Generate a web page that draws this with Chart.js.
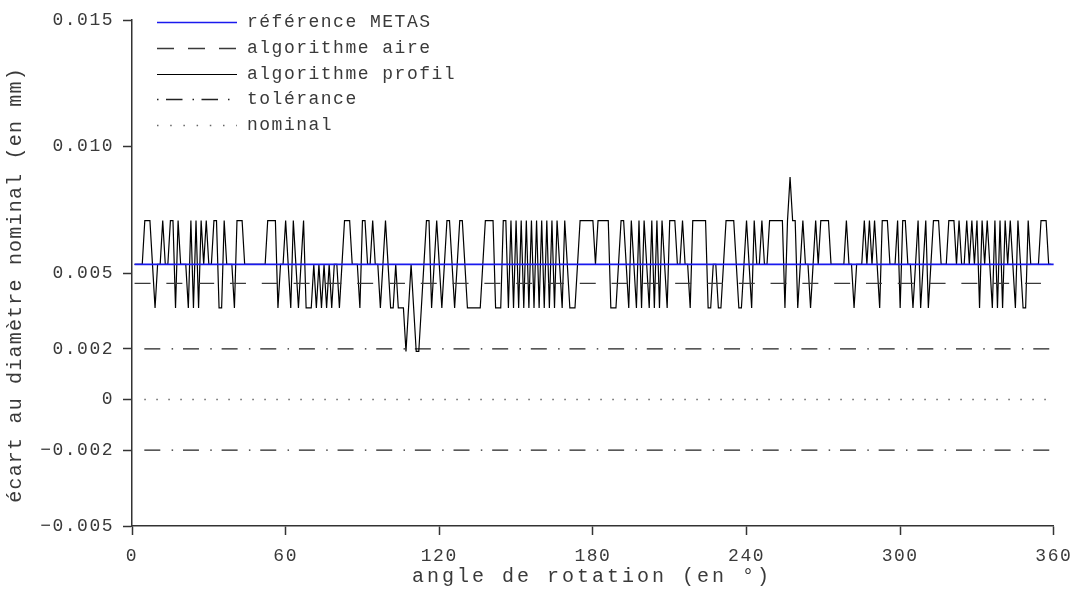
<!DOCTYPE html>
<html><head><meta charset="utf-8">
<script src="https://cdn.jsdelivr.net/npm/chart.js@4.4.0/dist/chart.umd.min.js"></script>
<style>html,body{margin:0;padding:0;background:#fff}#wrap{width:1080px;height:590px}</style>
</head><body><div id="wrap"><canvas id="c" width="1080" height="590"></canvas></div>
<script>
// ---------- data ----------
const xTickValues = [0, 60, 120, 180, 240, 300, 360];
const yTickValues = [-0.005, -0.002, 0, 0.002, 0.005, 0.010, 0.015];
const yTickLabels = ['−0.005', '−0.002', '0', '0.002', '0.005', '0.010', '0.015'];
const seriesNames = ['référence METAS', 'algorithme aire', 'algorithme profil', 'tolérance', 'nominal'];
const xTitle = 'angle de rotation (en °)';
const yTitle = 'écart au diamètre nominal (en mm)';

const lineAngles = [1, 360];
const referenceValues = [0.00534, 0.00534];
const aireValues = [0.00459, 0.00459];
const toleranceUpper = [0.002, 0.002];
const toleranceLower = [-0.002, -0.002];
const nominalValues = [0, 0];

// algorithme profil : one reading per degree, from 1° to 359°
const profileFirstAngle = 1;
const profileValues = [
 0.00534,0.00534,0.00534,0.00534,0.00707,0.00707,0.00707,0.00534,0.00362,0.00534, // 1-10
 0.00534,0.00707,0.00534,0.00534,0.00707,0.00707,0.00362,0.00707,0.00534,0.00534, // 11-20
 0.00534,0.00362,0.00707,0.00362,0.00707,0.00362,0.00707,0.00534,0.00707,0.00534, // 21-30
 0.00534,0.00707,0.00707,0.00362,0.00362,0.00707,0.00534,0.00534,0.00534,0.00362, // 31-40
 0.00707,0.00707,0.00707,0.00534,0.00534,0.00534,0.00534,0.00534,0.00534,0.00534, // 41-50
 0.00534,0.00534,0.00707,0.00707,0.00707,0.00707,0.00362,0.00534,0.00534,0.00707, // 51-60
 0.00534,0.00362,0.00707,0.00534,0.00362,0.00534,0.00707,0.00362,0.00362,0.00362, // 61-70
 0.00534,0.00362,0.00534,0.00362,0.00534,0.00362,0.00534,0.00362,0.00534,0.00534, // 71-80
 0.00362,0.00534,0.00707,0.00707,0.00707,0.00534,0.00534,0.00534,0.00362,0.00707, // 81-90
 0.00707,0.00534,0.00534,0.00707,0.00534,0.00534,0.00362,0.00534,0.00707,0.00534, // 91-100
 0.00362,0.00362,0.00534,0.00362,0.00362,0.00362,0.00190,0.00362,0.00534,0.00362, // 101-110
 0.00190,0.00190,0.00362,0.00534,0.00707,0.00707,0.00362,0.00534,0.00707,0.00534, // 111-120
 0.00362,0.00534,0.00707,0.00707,0.00534,0.00362,0.00534,0.00707,0.00707,0.00534, // 121-130
 0.00362,0.00362,0.00362,0.00362,0.00362,0.00362,0.00534,0.00707,0.00707,0.00707, // 131-140
 0.00707,0.00362,0.00362,0.00362,0.00707,0.00707,0.00362,0.00707,0.00362,0.00707, // 141-150
 0.00362,0.00707,0.00362,0.00707,0.00362,0.00707,0.00362,0.00707,0.00362,0.00707, // 151-160
 0.00362,0.00707,0.00362,0.00707,0.00362,0.00707,0.00534,0.00362,0.00707,0.00534, // 161-170
 0.00362,0.00362,0.00362,0.00534,0.00707,0.00707,0.00707,0.00707,0.00707,0.00707, // 171-180
 0.00534,0.00707,0.00707,0.00707,0.00707,0.00707,0.00362,0.00362,0.00362,0.00534, // 181-190
 0.00707,0.00707,0.00534,0.00362,0.00707,0.00534,0.00362,0.00707,0.00362,0.00707, // 191-200
 0.00534,0.00362,0.00707,0.00362,0.00707,0.00362,0.00707,0.00534,0.00362,0.00707, // 201-210
 0.00707,0.00707,0.00534,0.00534,0.00707,0.00534,0.00534,0.00362,0.00707,0.00707, // 211-220
 0.00707,0.00707,0.00707,0.00707,0.00362,0.00362,0.00534,0.00534,0.00362,0.00362, // 221-230
 0.00534,0.00707,0.00707,0.00707,0.00707,0.00534,0.00362,0.00362,0.00534,0.00707, // 231-240
 0.00534,0.00362,0.00707,0.00534,0.00534,0.00707,0.00534,0.00534,0.00707,0.00707, // 241-250
 0.00707,0.00707,0.00707,0.00707,0.00362,0.00707,0.00879,0.00707,0.00707,0.00362, // 251-260
 0.00534,0.00707,0.00534,0.00534,0.00362,0.00534,0.00707,0.00534,0.00707,0.00707, // 261-270
 0.00707,0.00707,0.00534,0.00534,0.00534,0.00534,0.00534,0.00534,0.00707,0.00534, // 271-280
 0.00534,0.00362,0.00534,0.00534,0.00534,0.00707,0.00534,0.00707,0.00534,0.00707, // 281-290
 0.00534,0.00362,0.00707,0.00707,0.00707,0.00534,0.00534,0.00534,0.00707,0.00362, // 291-300
 0.00707,0.00707,0.00534,0.00534,0.00362,0.00534,0.00707,0.00362,0.00534,0.00707, // 301-310
 0.00362,0.00534,0.00707,0.00707,0.00707,0.00534,0.00534,0.00534,0.00707,0.00707, // 311-320
 0.00707,0.00534,0.00707,0.00534,0.00534,0.00707,0.00534,0.00707,0.00534,0.00707, // 321-330
 0.00362,0.00707,0.00534,0.00707,0.00534,0.00362,0.00707,0.00362,0.00707,0.00362, // 331-340
 0.00707,0.00534,0.00707,0.00534,0.00362,0.00707,0.00534,0.00362,0.00362,0.00707, // 341-350
 0.00534,0.00534,0.00534,0.00534,0.00707,0.00707,0.00707,0.00534,0.00534          // 351-359
];

// ---------- presentation ----------
const FONT_FAMILY = '"Liberation Mono", "DejaVu Sans Mono", monospace';
const FONT_SIZE = 18;
const LETTER_SPACING = '1.5px';
const TEXT_COLOR = '#3a3a3a';
const AXIS_COLOR = '#333';
const TITLE = {size: 20, xSpacing: 3, ySpacing: 1.2, xCenterY: 577, yCenterX: 16, yShift: 12.5};

const pts = (xs, ys) => ys.map((y, i) => ({x: xs[i], y}));
const profilePoints = profileValues.map((v, i) => ({x: profileFirstAngle + i, y: v}));

const LEG = {x0: 157, x1: 237, textX: 247, top: 22, gap: 25.8};

const textPlugin = {
  id: 'lineLegend',
  beforeDraw(chart) { chart.ctx.letterSpacing = LETTER_SPACING; },
  afterDraw(chart) {
    const ctx = chart.ctx;
    const area = chart.chartArea;
    ctx.save();
    ctx.letterSpacing = LETTER_SPACING;
    ctx.font = FONT_SIZE + 'px ' + FONT_FAMILY;
    ctx.textBaseline = 'middle';
    ctx.textAlign = 'left';
    let row = 0;
    chart.data.datasets.forEach(ds => {
      if (!ds.inLegend) return;
      const y = Math.round(LEG.top + row * LEG.gap) + 0.5;
      ctx.strokeStyle = ds.borderColor;
      ctx.lineWidth = ds.borderWidth;
      ctx.setLineDash(ds.legendDash || []);
      ctx.lineDashOffset = 0;
      ctx.beginPath(); ctx.moveTo(LEG.x0, y); ctx.lineTo(LEG.x1, y); ctx.stroke();
      ctx.setLineDash([]);
      ctx.fillStyle = TEXT_COLOR;
      ctx.fillText(ds.label, LEG.textX, y);
      row++;
    });
    // axis titles
    ctx.font = TITLE.size + 'px ' + FONT_FAMILY;
    ctx.textAlign = 'center';
    ctx.fillStyle = TEXT_COLOR;
    ctx.letterSpacing = TITLE.xSpacing + 'px';
    ctx.fillText(xTitle, (area.left + area.right) / 2 - 2.5 + TITLE.xSpacing / 2, TITLE.xCenterY);
    ctx.letterSpacing = TITLE.ySpacing + 'px';
    ctx.translate(TITLE.yCenterX, (area.top + area.bottom) / 2 + TITLE.yShift);
    ctx.rotate(-Math.PI / 2);
    ctx.fillText(yTitle, TITLE.ySpacing / 2, 0);
    ctx.restore();
  }
};

const common = {pointRadius: 0, pointHoverRadius: 0, tension: 0, fill: false};

new Chart(document.getElementById('c'), {
  type: 'line',
  data: {
    datasets: [
      {...common, label: seriesNames[0], data: pts(lineAngles, referenceValues), borderColor: '#1a1aee', borderWidth: 1.6, inLegend: true},
      {...common, label: seriesNames[1], data: pts(lineAngles, aireValues), borderColor: '#3a3a3a', borderWidth: 1.4, borderDash: [16, 15.8], legendDash: [17, 14], inLegend: true},
      {...common, label: seriesNames[2], data: profilePoints, borderColor: '#000', borderWidth: 1.2, inLegend: true},
      {...common, label: seriesNames[3], data: pts(lineAngles, toleranceUpper), borderColor: '#222', borderWidth: 1.4, borderDash: [16, 11.3, 1.5, 9.85], borderDashOffset: 28.9, legendDash: [1.5, 7.5, 16.5, 10], inLegend: true},
      {...common, label: seriesNames[3], data: pts(lineAngles, toleranceLower), borderColor: '#222', borderWidth: 1.4, borderDash: [16, 11.3, 1.5, 9.85], borderDashOffset: 28.9, inLegend: false},
      {...common, label: seriesNames[4], data: pts(lineAngles, nominalValues), borderColor: '#666', borderWidth: 1.4, borderDash: [1.5, 10.5], borderDashOffset: 2.25, legendDash: [1.5, 11.7], inLegend: true}
    ]
  },
  options: {
    responsive: false,
    animation: false,
    devicePixelRatio: 1,
    layout: {padding: {top: 20, right: 26, bottom: 0, left: 0}},
    plugins: {legend: {display: false}, tooltip: {enabled: false}},
    scales: {
      x: {
        type: 'linear', min: 0, max: 360,
        afterBuildTicks: s => { s.ticks = xTickValues.map(v => ({value: v})); },
        afterFit: s => { s.height = 64; },
        grid: {drawOnChartArea: false, drawTicks: true, tickLength: 9, color: AXIS_COLOR, tickWidth: 1.5},
        border: {display: true, color: AXIS_COLOR, width: 1.5},
        ticks: {color: TEXT_COLOR, font: {family: FONT_FAMILY, size: FONT_SIZE}, padding: 10, maxRotation: 0, autoSkip: false},
        title: {display: false}
      },
      y: {
        type: 'linear', min: -0.005, max: 0.015,
        afterBuildTicks: s => { s.ticks = yTickValues.map(v => ({value: v})); },
        afterFit: s => { s.width = 132; },
        grid: {drawOnChartArea: false, drawTicks: true, tickLength: 9, color: AXIS_COLOR, tickWidth: 1.5},
        border: {display: true, color: AXIS_COLOR, width: 1.5},
        ticks: {color: TEXT_COLOR, font: {family: FONT_FAMILY, size: FONT_SIZE}, padding: 9, autoSkip: false,
                callback: (v) => { const i = yTickValues.findIndex(t => Math.abs(t - v) < 1e-9); return i >= 0 ? yTickLabels[i] : ''; }},
        title: {display: false}
      }
    }
  },
  plugins: [textPlugin]
});
</script></body></html>
